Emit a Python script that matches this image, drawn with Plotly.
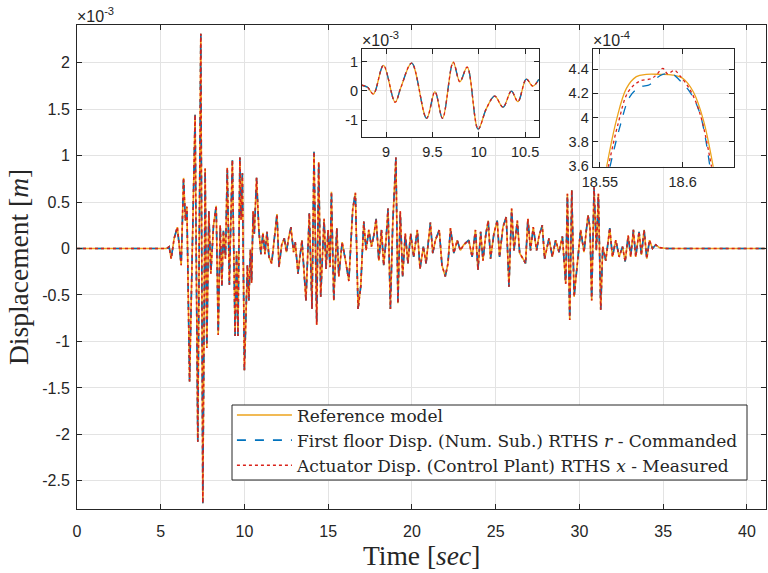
import plotly.graph_objects as go

# main record, displacement in units of 1e-3 m
time_main = [0, 5.36, 5.50, 5.62, 5.80, 5.99, 6.22, 6.36, 6.47, 6.56, 6.72, 6.88, 7.05, 7.21, 7.39,
             7.51, 7.65, 7.75, 7.87, 7.99, 8.15, 8.31, 8.43, 8.55, 8.65,
             8.74, 8.863, 8.971, 9.097, 9.16, 9.276, 9.437, 9.527, 9.609, 9.724, 9.796, 9.875, 9.993,
             10.083, 10.172, 10.262, 10.352, 10.423, 10.513, 10.584, 10.648, 10.72, 10.86, 10.98,
             11.10, 11.22, 11.34, 11.46, 11.62, 11.78, 11.94, 12.06, 12.22, 12.38, 12.50, 12.63,
             12.77, 12.93, 13.03, 13.19, 13.43, 13.67, 13.87, 14.03, 14.15, 14.31, 14.43, 14.55,
             14.75, 14.87, 14.99, 15.11, 15.19, 15.33, 15.51, 15.63, 15.83, 16.03, 16.23, 16.46,
             16.62, 16.78, 16.94, 17.12, 17.26, 17.42, 17.58, 17.72, 17.86, 18.02, 18.18, 18.31,
             18.45, 18.57, 18.71, 18.85, 19.04, 19.16, 19.30, 19.44, 19.60, 19.76, 19.92, 20.10,
             20.32, 20.48, 20.68, 20.84, 21.10, 21.24, 21.40, 21.63, 21.79, 21.99, 22.15, 22.30,
             22.50, 22.70, 22.89, 23.09, 23.39, 23.59, 23.79, 23.94, 24.10, 24.24, 24.40, 24.55,
             24.69, 24.89, 25.09, 25.23, 25.43, 25.63, 25.79, 25.95, 26.09, 26.29, 26.43, 26.63,
             26.78, 26.92, 27.08, 27.24, 27.44, 27.58, 27.78, 27.92, 28.18, 28.38, 28.58, 28.78,
             28.98, 29.18, 29.28, 29.42, 29.54, 29.68, 29.88, 30.07, 30.27, 30.51, 30.63, 30.73,
             30.87, 31.01, 31.13, 31.27, 31.39, 31.57, 31.81, 31.97, 32.17, 32.37, 32.57, 32.73,
             32.91, 33.06, 33.22, 33.36, 33.56, 33.70, 33.86, 34.02, 34.18, 34.36, 34.56, 34.76,
             35.20, 41.12]
disp_main = [0, 0, 0.02, -0.11, 0.11, 0.23, -0.18, 0.76, 0.30, 0.45, -1.43, 0.10, 1.44, -2.08, 2.31,
             -2.74, 0.86, -1.07, 0.40, -0.27, 0.25, 0.46, -0.93, 0.25, -0.40,
             0.19, -0.11, 0.87, -0.39, 0.12, 0.95, -0.94, -0.03, -0.94, 0.98, 0.31, 0.81, -1.31,
             -0.60, -0.18, -0.56, -0.01, -0.37, 0.40, 0.16, 0.39, 0.76, 0.19, -0.06,
             0.17, -0.06, 0.18, -0.09, -0.16, 0.08, 0.37, -0.20, 0.04, 0.11, -0.04, 0.11,
             0.23, -0.04, 0.07, -0.27, 0.09, -0.56, 0.38, -0.65, 1.04, -0.82, 0.93, -0.52,
             0.32, -0.22, 0.20, -0.20, 0.61, -0.56, 0.22, -0.30, 0.07, -0.13, -0.35, 0.42,
             0.60, -0.65, -0.41, 0.29, -0.02, 0.20, 0.02, 0.14, 0.32, -0.13, 0.20, -0.18,
             0.09, 0.43, -0.65, 0.26, 0.98, -0.59, 0.40, -0.30, 0.16, -0.16, 0.16, -0.09,
             0.20, -0.22, 0.02, -0.16, 0.28, -0.05, 0.09, 0.20, -0.18, -0.30, -0.16, 0.22,
             -0.05, 0.09, -0.02, 0.04, 0.09, -0.09, 0.20, -0.23, 0.18, -0.13, 0.14, 0.30,
             -0.11, 0.16, 0.30, -0.09, 0.23, 0.34, -0.41, 0.43, -0.02, 0.30, -0.05, -0.11,
             -0.16, 0.32, -0.02, 0.23, -0.02, 0.13, 0.25, -0.11, 0.11, -0.09, 0.09, -0.04,
             0.13, -0.38, 0.59, -0.77, 0.63, -0.52, -0.16, 0.20, -0.04, 0.36, 0.22, -0.56,
             0.66, -0.02, 0.59, -0.66, 0.02, -0.13, 0.22, -0.09, 0.09, -0.09, 0.02, -0.14,
             0.14, -0.09, 0.20, -0.09, 0.18, -0.07, 0.20, -0.11, 0.09, 0.00, 0.04, 0.01,
             0.00, 0.00]

# zoom 1 (8.7 - 10.7 s), units of 1e-3 m
time_zoom1 = [8.739, 8.80, 8.863, 8.971, 9.097, 9.16, 9.276, 9.437, 9.527, 9.609, 9.724, 9.796,
              9.875, 9.993, 10.083, 10.172, 10.262, 10.352, 10.423, 10.513, 10.584, 10.648]
disp_zoom1 = [0.19, 0.12, -0.11, 0.87, -0.39, 0.12, 0.95, -0.94, -0.03, -0.94, 0.98, 0.31,
              0.81, -1.31, -0.60, -0.18, -0.56, -0.01, -0.37, 0.40, 0.16, 0.39]

# zoom 2 (peak near 18.59 s), units of 1e-4 m
time_zoom2_ref = [18.554, 18.560, 18.566, 18.572, 18.578, 18.586, 18.594, 18.6004, 18.6065, 18.6125, 18.6185]
disp_zoom2_ref = [3.59, 3.98, 4.24, 4.337, 4.356, 4.356, 4.35, 4.32, 4.21, 3.98, 3.59]
time_zoom2_cmd = [18.556, 18.562, 18.568, 18.574, 18.580, 18.583, 18.588, 18.594, 18.598, 18.6044, 18.6105, 18.6165]
disp_zoom2_cmd = [3.59, 3.92, 4.17, 4.25, 4.27, 4.31, 4.356, 4.356, 4.31, 4.21, 4.03, 3.59]
time_zoom2_meas = [18.555, 18.561, 18.567, 18.574, 18.581, 18.584, 18.588, 18.591, 18.595, 18.598, 18.6044, 18.6105, 18.6175]
disp_zoom2_meas = [3.59, 3.95, 4.21, 4.30, 4.32, 4.35, 4.405, 4.36, 4.39, 4.35, 4.23, 4.03, 3.59]

names = ["Reference model",
         "First floor Disp. (Num. Sub.) RTHS <i>r</i> - Commanded",
         "Actuator Disp. (Control Plant) RTHS <i>x</i> - Measured"]
colors = ["#EDA31C", "#0072BD", "#D9221A"]
dashes = ["solid", "dash", "dot"]

fig = go.Figure()

for i in range(3):
    fig.add_trace(go.Scatter(x=time_main, y=disp_main, mode="lines", name=names[i],
                             line=dict(color=colors[i], width=1.6, dash=dashes[i]),
                             xaxis="x", yaxis="y"))

for i in range(3):
    fig.add_trace(go.Scatter(x=time_zoom1, y=disp_zoom1, mode="lines", showlegend=False,
                             line=dict(color=colors[i], width=1.3, dash=dashes[i], shape="spline"),
                             xaxis="x2", yaxis="y2"))

zoom2 = [(time_zoom2_ref, disp_zoom2_ref), (time_zoom2_cmd, disp_zoom2_cmd), (time_zoom2_meas, disp_zoom2_meas)]
for i in range(3):
    fig.add_trace(go.Scatter(x=zoom2[i][0], y=zoom2[i][1], mode="lines", showlegend=False,
                             line=dict(color=colors[i], width=1.3, dash=dashes[i], shape="spline"),
                             xaxis="x3", yaxis="y3"))

tick_font = dict(family="Liberation Sans, Arial", size=16, color="#262626")
inset_font = dict(family="Liberation Sans, Arial", size=14.5, color="#262626")


def axis_style(font, **kw):
    d = dict(showline=True, linecolor="#262626", linewidth=1, mirror="ticks",
             ticks="inside", ticklen=5, tickcolor="#262626", showgrid=True,
             gridcolor="#E3E3E3", gridwidth=1, zeroline=False, tickfont=font,
             automargin=False)
    d.update(kw)
    return d


main_y = [-2.5, -2, -1.5, -1, -0.5, 0, 0.5, 1, 1.5, 2]
z1_y = [-1, 0, 1]
z2_y = [3.6, 3.8, 4, 4.2, 4.4]

fig.update_layout(
    width=768, height=573,
    margin=dict(l=0, r=0, t=0, b=0, autoexpand=False),
    paper_bgcolor="white", plot_bgcolor="white",
    xaxis=axis_style(tick_font, domain=[0.1003, 0.997], range=[0, 41.12],
                     tickvals=[0, 5, 10, 15, 20, 25, 30, 35, 40], anchor="y",
                     ticklabelstandoff=8),
    yaxis=axis_style(tick_font, domain=[0.1122, 0.9555], range=[-2.8, 2.4],
                     tickvals=main_y, ticktext=[f"{v:g}" for v in main_y], anchor="x",
                     ticklabelstandoff=3),
    xaxis2=axis_style(inset_font, domain=[0.4714, 0.7018], range=[8.74, 10.65],
                      tickvals=[9, 9.5, 10, 10.5], anchor="y2", ticklabelstandoff=2),
    yaxis2=axis_style(inset_font, domain=[0.7609, 0.9145], range=[-1.58, 1.43],
                      tickvals=z1_y, ticktext=[f"{v:g}" for v in z1_y], anchor="x2"),
    xaxis3=axis_style(inset_font, domain=[0.7717, 0.9561], range=[18.5456, 18.6312],
                      tickvals=[18.55, 18.6], ticktext=["18.55", "18.6"], anchor="y3",
                      ticklabelstandoff=2),
    yaxis3=axis_style(inset_font, domain=[0.7091, 0.9140], range=[3.594, 4.563],
                      tickvals=z2_y, ticktext=[f"{v:g}" for v in z2_y], anchor="x3"),
    legend=dict(x=0.302, y=(573 - 397.5) / 573, xanchor="left", yanchor="top",
                bgcolor="rgba(0,0,0,0)", borderwidth=0,
                font=dict(family="DejaVu Serif", size=17, color="#262626"),
                itemwidth=55, tracegroupgap=0),
    showlegend=True,
)

# legend frame
fig.add_shape(type="rect", xref="paper", yref="paper", layer="above",
              x0=232 / 768, x1=747 / 768, y0=(573 - 480) / 573, y1=(573 - 405) / 573,
              fillcolor="white", line=dict(color="#262626", width=1))

serif = "Liberation Serif, Times New Roman"
fig.add_annotation(text="Time [<i>sec</i>]", x=0.5487, y=(573 - 555) / 573, xref="paper", yref="paper",
                   xanchor="center", yanchor="middle",
                   showarrow=False, font=dict(family=serif, size=27.5, color="#262626"))
fig.add_annotation(text="Displacement [<i>m</i>]", x=18 / 768, y=(573 - 267) / 573, xref="paper", yref="paper",
                   xanchor="center", yanchor="middle",
                   textangle=-90, showarrow=False, font=dict(family=serif, size=27.5, color="#262626"))

for txt, x, y in [("×10<sup>-3</sup>", 0.1003, 0.9555), ("×10<sup>-3</sup>", 0.4714, 0.9145),
                  ("×10<sup>-4</sup>", 0.7717, 0.9140)]:
    fig.add_annotation(text=txt, x=x, y=y, xref="paper", yref="paper", xanchor="left",
                       yanchor="bottom", showarrow=False, xshift=-2, yshift=-2,
                       font=dict(family="Liberation Sans, Arial", size=16, color="#262626"))

fig.write_html("out.html", config={"displayModeBar": False},
               post_script="document.body.style.margin='0';")
